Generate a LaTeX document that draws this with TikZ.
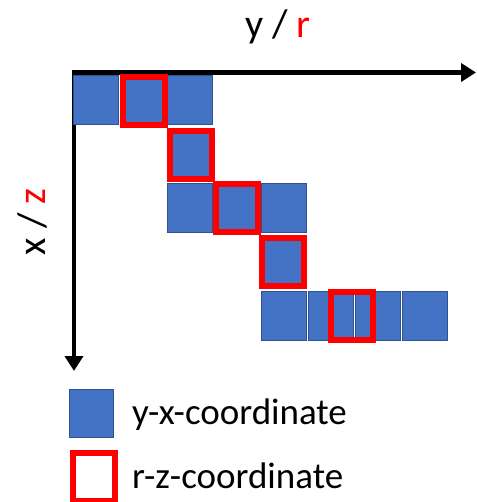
\documentclass[tikz,border=0pt]{standalone}
\usepackage{fontspec}
\setmainfont{Carlito}
\usetikzlibrary{arrows.meta}
\definecolor{bluefill}{HTML}{4472C4}
\definecolor{blueedge}{HTML}{2F528F}
\definecolor{redbox}{HTML}{FF0000}
\tikzset{
  cell/.style={rectangle, fill=bluefill, draw=blueedge, line width=0.8pt, minimum width=45pt, minimum height=49pt, inner sep=0pt, outer sep=0pt},
  rzbox/.style={rectangle, draw=redbox, line width=6pt, minimum width=42pt, minimum height=48pt, inner sep=0pt, outer sep=0pt},
  axis/.style={line width=4.5pt, -{Triangle[length=15pt,width=18pt]}},
  lbl/.style={inner sep=0pt, font=\fontsize{40}{48}\selectfont},
  legtxt/.style={inner sep=0pt, font=\fontsize{37}{44}\selectfont}
}
\begin{document}
\begin{tikzpicture}[x=1pt,y=-1pt]
\useasboundingbox (0,0) rectangle (476,502);
% axes
\coordinate (o) at (74,72.5);
\coordinate (xe) at (476,72.5);
\coordinate (ye) at (74,371);
\draw[axis] (72,72.5) -- (xe);
\draw[axis] (74,70.5) -- (ye);
\node[lbl, anchor=base] (ylab) at (278,38) {y / \textcolor{redbox}{r}};
\node[lbl, anchor=base, rotate=90] (xlab) at (45,222) {x / \textcolor{redbox}{z}};
% blue cells (centers: col x = 95.5 + 47k, row y = 99.5 + 54j)
\node[cell] (c00) at (95.5,99.5) {};
\node[cell] (c01) at (142.5,99.5) {};
\node[cell] (c02) at (189.5,99.5) {};
\node[cell] (c12) at (189.5,153.5) {};
\node[cell] (c22) at (189.5,207.5) {};
\node[cell] (c23) at (236.5,207.5) {};
\node[cell] (c24) at (283.5,207.5) {};
\node[cell] (c34) at (283.5,261.5) {};
\node[cell] (c44) at (283.5,316) {};
\node[cell] (c45) at (330.5,316) {};
\node[cell] (c46) at (377.5,316) {};
\node[cell] (c47) at (424.5,316) {};
% red r-z boxes
\node[rzbox] (r1) at (144,101) {};
\node[rzbox] (r2) at (190.5,155) {};
\node[rzbox] (r3) at (236.5,208) {};
\node[rzbox] (r4) at (283,261.5) {};
\node[rzbox] (r5) at (351.5,316) {};
% legend
\node[cell, minimum width=44pt, minimum height=48pt] (lb) at (91,413) {};
\node[rzbox] (lr) at (93.5,477) {};
\node[legtxt, anchor=base west] (lbt) at (132,424) {y-x-coordinate};
\node[legtxt, anchor=base west] (lrt) at (132,488) {r-z-coordinate};
\end{tikzpicture}
\end{document}
